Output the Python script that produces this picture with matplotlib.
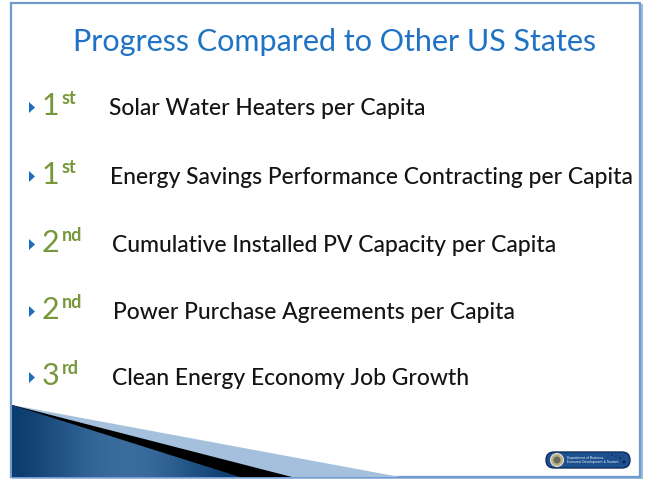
import numpy as np
import matplotlib.pyplot as plt
from matplotlib.colors import LinearSegmentedColormap
from matplotlib.patches import Polygon, Rectangle, FancyBboxPatch, Circle

# ── Slide content ────────────────────────────────────────────────────────────
TITLE = "Progress Compared to Other US States"
ranks = ["1", "1", "2", "2", "3"]
suffixes = ["st", "st", "nd", "nd", "rd"]
items = [
    "Solar Water Heaters per Capita",
    "Energy Savings Performance Contracting per Capita",
    "Cumulative Installed PV Capacity per Capita",
    "Power Purchase Agreements per Capita",
    "Clean Energy Economy Job Growth",
]

# ── Palette ──────────────────────────────────────────────────────────────────
TITLE_C = "#1F72C4"
GREEN = "#76973A"
BULLET = "#1F6DBE"
TEXT = "#141414"
BORDER = "#6E9AD0"
FONT = "Lato"

W, H = 646, 479
fig = plt.figure(figsize=(W / 100, H / 100), dpi=100, facecolor="white")
ax = fig.add_axes([0, 0, 1, 1])
ax.set_xlim(0, W)
ax.set_ylim(H, 0)
ax.set_axis_off()

# slide frame with a faint shadow on the right / bottom
ax.add_patch(Rectangle((11, 3), 629, 474, fc="white", ec=BORDER, lw=1.6, zorder=1))
ax.plot([641.5, 641.5], [5, 478.5], color="#9DB9DE", lw=1.5, zorder=1)
ax.plot([13, 641.5], [478.5, 478.5], color="#9DB9DE", lw=1.5, zorder=1)

# title
ax.text(335, 42, TITLE, ha="center", va="center", fontsize=22,
        color=TITLE_C, family=FONT, zorder=5)

# bullet rows
baselines = [115, 184, 252, 319, 385]
item_x = [109, 110, 112, 113, 112]
for i, (r, s, txt) in enumerate(zip(ranks, suffixes, items)):
    yb = baselines[i]
    ax.add_patch(Polygon([(29, yb - 13), (35, yb - 7.5), (29, yb - 2)],
                         closed=True, fc=BULLET, ec="none", zorder=5))
    ax.text(59, yb, r, ha="right", va="baseline", fontsize=22,
            color=GREEN, family=FONT, zorder=5)
    ax.text(62, yb - 11, s, ha="left", va="baseline", fontsize=13,
            fontweight="bold", color=GREEN, family=FONT, zorder=5)
    ax.text(item_x[i], yb, txt, ha="left", va="baseline", fontsize=16.5,
            fontweight="medium", color=TEXT, family=FONT, zorder=5)

# ── bottom-left swoosh ───────────────────────────────────────────────────────
ax.add_patch(Polygon([(12, 405), (400, 477), (12, 477)], closed=True,
                     fc="#A5C0DC", ec="none", zorder=2))
ax.add_patch(Polygon([(12, 405), (292, 477), (12, 477)], closed=True,
                     fc="#000000", ec="none", zorder=3))
dark = Polygon([(12, 405), (240, 477), (12, 477)], closed=True,
               fc="none", ec="none", zorder=4)
ax.add_patch(dark)
gx = np.linspace(0, 1, 200)
grad = np.tile(np.sin(np.pi * gx) ** 1.5, (20, 1))
cmap = LinearSegmentedColormap.from_list("sw", ["#0C3C70", "#3A6C9E"])
im = ax.imshow(grad, extent=(12, 240, 477, 405), cmap=cmap, aspect="auto", zorder=4)
im.set_clip_path(dark)

# ── logo badge bottom-right ──────────────────────────────────────────────────
ax.add_patch(FancyBboxPatch((546, 452), 84, 16, boxstyle="round,pad=0,rounding_size=8",
                            fc="#1C4F8F", ec="#0E2F5C", lw=1, zorder=5))
ax.add_patch(Circle((557, 460), 6.5, fc="#B9AE86", ec="#E8E2CC", lw=0.8, zorder=6))
ax.add_patch(Circle((557, 460), 3.5, fc="#6B6A5A", ec="none", zorder=7))
ax.text(567, 460, "Department of Business,\nEconomic Development & Tourism",
        ha="left", va="center", fontsize=2.2, color="white", zorder=7,
        linespacing=1.1)
ax.scatter([612, 616, 620, 624], [455, 456, 458, 462], s=[1, 1, 1.5, 4],
           color="#0A1F3D", zorder=7, linewidths=0)

fig.savefig("out.png", dpi=100, facecolor="white")
